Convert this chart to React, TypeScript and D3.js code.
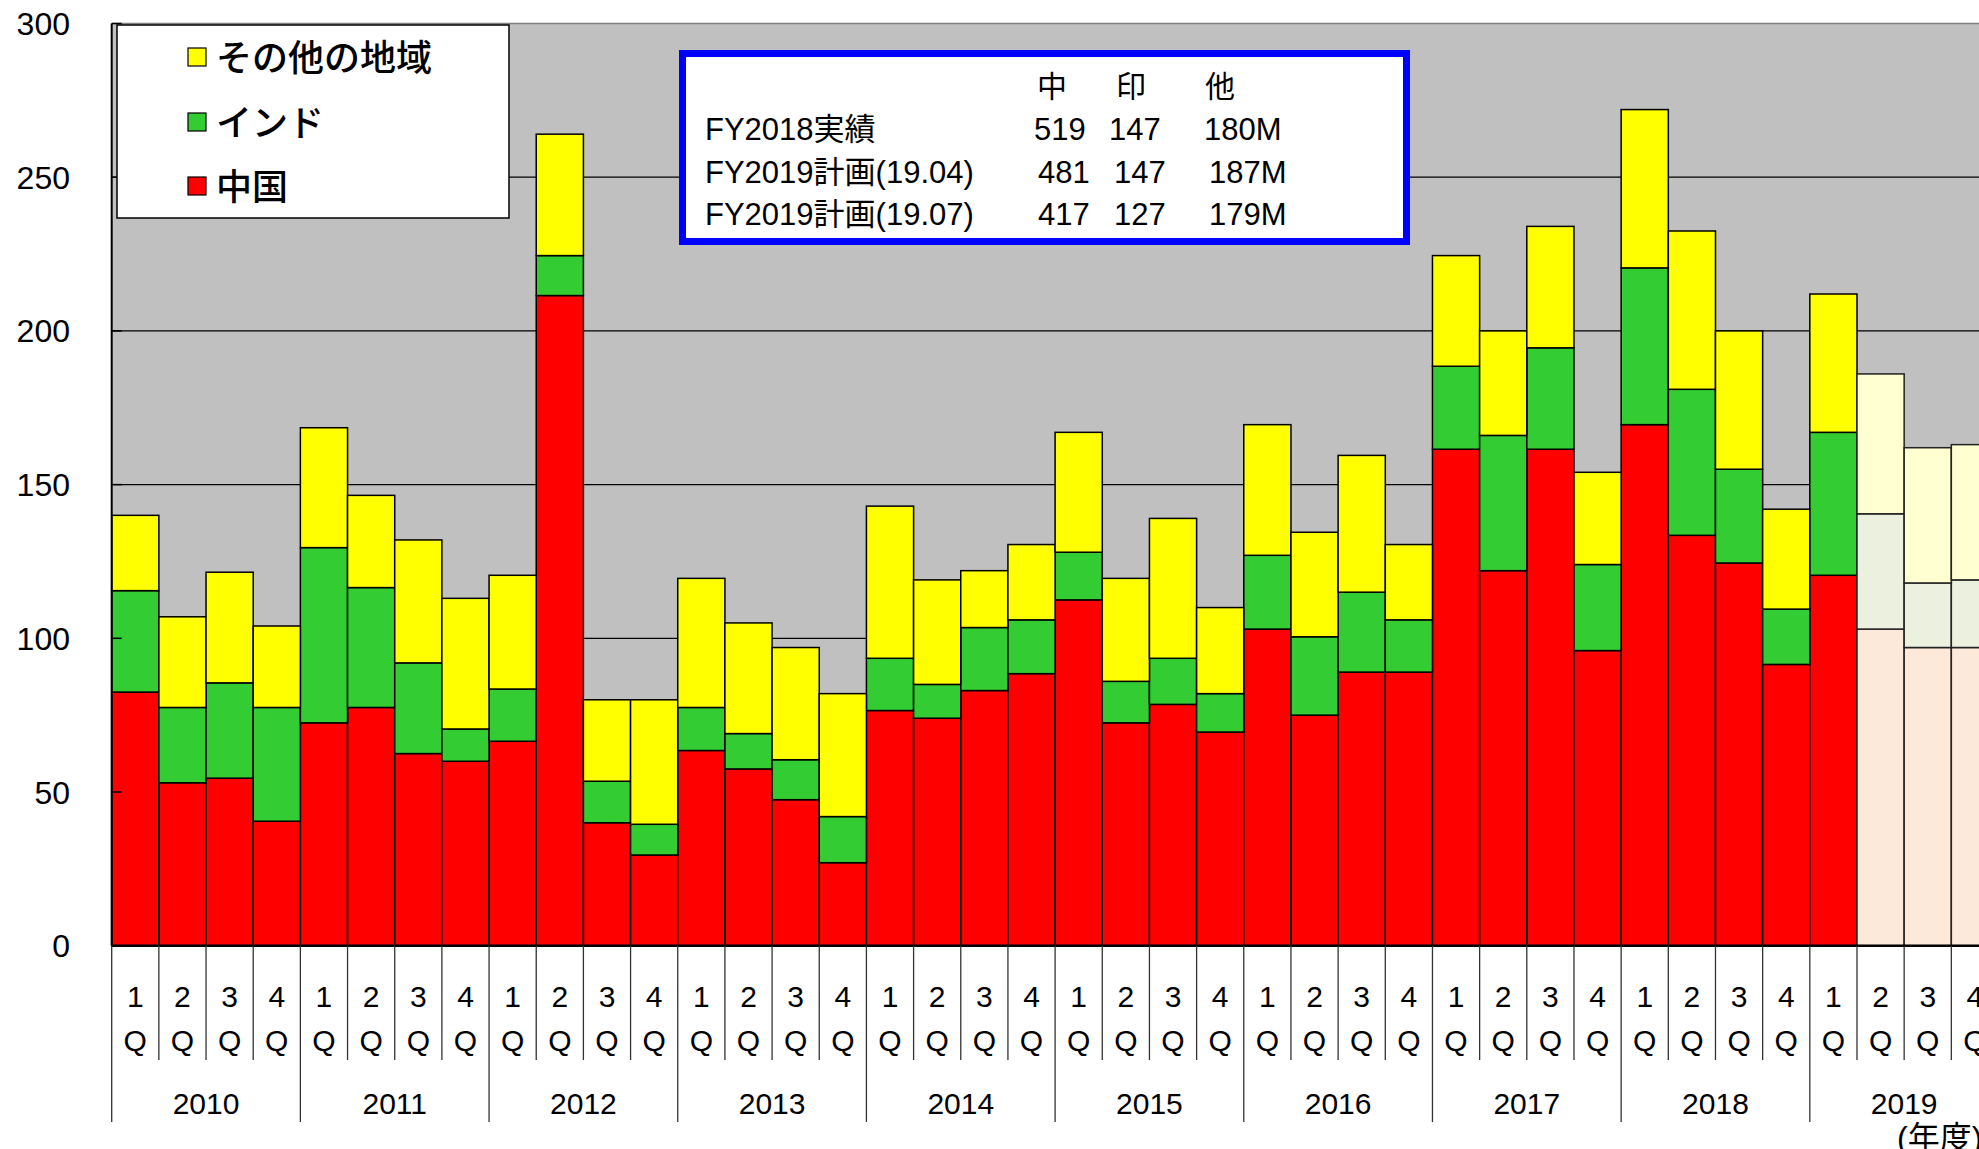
import React from 'react';
import * as d3 from 'd3';

const years = ['2010', '2011', '2012', '2013', '2014', '2015', '2016', '2017', '2018', '2019'];
const quarterNums = ['1', '2', '3', '4'];
const seriesKeys = ['china', 'india', 'other'];
const seriesNames = ['中国', 'インド', 'その他の地域'];

// segment values per quarter, FY2010 1Q .. FY2019 4Q
const china = [
  82.5, 53, 54.5, 40.5,
  72.5, 77.5, 62.5, 60,
  66.5, 211.5, 40, 29.5,
  63.5, 57.5, 47.5, 27,
  76.5, 74, 83, 88.5,
  112.5, 72.5, 78.5, 69.5,
  103, 75, 89, 89,
  161.5, 122, 161.5, 96,
  169.5, 133.5, 124.5, 91.5,
  120.5, 103, 97, 97,
];
const india = [
  33, 24.5, 31, 37,
  57, 39, 29.5, 10.5,
  17, 13, 13.5, 10,
  14, 11.5, 13, 15,
  17, 11, 20.5, 17.5,
  15.5, 13.5, 15, 12.5,
  24, 25.5, 26, 17,
  27, 44, 33, 28,
  51, 47.5, 30.5, 18,
  46.5, 37.5, 21, 22,
];
const other = [
  24.5, 29.5, 36, 26.5,
  39, 30, 40, 42.5,
  37, 39.5, 26.5, 40.5,
  42, 36, 36.5, 40,
  49.5, 34, 18.5, 24.5,
  39, 33.5, 45.5, 28,
  42.5, 34, 44.5, 24.5,
  36, 34, 39.5, 30,
  51.5, 51.5, 45, 32.5,
  45, 45.5, 44, 44,
];
const firstPlanIndex = 37; // FY2019 2Q onward are plan values

const yTicks = [0, 50, 100, 150, 200, 250, 300];

const tableHeader = ['中', '印', '他'];
const tableRows = ['FY2018実績', 'FY2019計画(19.04)', 'FY2019計画(19.07)'];
const tableValues = [
  ['519', '147', '180M'],
  ['481', '147', '187M'],
  ['417', '127', '179M'],
];

const solidColors = ['#FF0000', '#33CC33', '#FFFF00'];
const paleColors = ['#FDE9DA', '#EBF0DF', '#FFFFD2'];

const LATIN = '"Liberation Sans", Arial, "Noto Sans CJK JP", sans-serif';
const CJK = '"Noto Sans CJK JP", "Liberation Sans", sans-serif';

export default function App() {
  const W = 1979;
  const H = 1149;
  const left = 111.7;
  const bandW = 47.17;
  const top = 23.5;
  const bottom = 945.7;

  const cats = years.flatMap((y) => quarterNums.map((q) => `${y}-${q}`));
  const data = cats.map((c, i) => ({ cat: c, i, china: china[i], india: india[i], other: other[i] }));

  const x = d3.scaleBand().domain(cats).range([left, left + bandW * cats.length]).padding(0);
  const y = d3.scaleLinear().domain([0, 300]).range([bottom, top]);
  const stack = d3.stack().keys(seriesKeys)(data as any);

  const yearW = x.bandwidth() * 4;

  return (
    <svg width={W} height={H} style={{ position: 'fixed', left: 0, top: 0, background: '#fff' }}>
      {/* plot background */}
      <rect x={left} y={top} width={W - left + 40} height={bottom - top} fill="#C0C0C0" />
      {/* gridlines */}
      {yTicks.filter((t) => t > 0).map((t) => (
        <line key={t} x1={left} x2={W + 40} y1={y(t)} y2={y(t)} stroke={t === 300 ? '#808080' : '#000'} strokeWidth={1.3} />
      ))}
      {/* bars */}
      {stack.map((layer, si) => (
        <g key={si}>
          {layer.map((d: any, i: number) => {
            const plan = i >= firstPlanIndex;
            return (
              <rect
                key={i}
                x={x(cats[i])}
                y={y(d[1])}
                width={x.bandwidth()}
                height={y(d[0]) - y(d[1])}
                fill={plan ? paleColors[si] : solidColors[si]}
                stroke={plan ? '#222' : '#000'}
                strokeWidth={1.5}
              />
            );
          })}
        </g>
      ))}
      {/* y axis */}
      <line x1={left} x2={left} y1={top} y2={bottom} stroke="#000" strokeWidth={2} />
      {yTicks.map((t) => (
        <g key={t}>
          <line x1={left} x2={left + 10} y1={y(t)} y2={y(t)} stroke="#000" strokeWidth={1.5} />
          <text x={70} y={y(t) + 11.5} textAnchor="end" fontFamily={LATIN} fontSize={32} fill="#000">{t}</text>
        </g>
      ))}
      {/* x axis */}
      <line x1={left} x2={W + 40} y1={bottom} y2={bottom} stroke="#000" strokeWidth={2.5} />
      {cats.map((c, i) => (
        <g key={c}>
          <line x1={x(c)} x2={x(c)} y1={bottom} y2={i % 4 === 0 ? 1122 : 1060} stroke="#333" strokeWidth={1.3} />
          <text x={(x(c) as number) + bandW / 2} y={1007} textAnchor="middle" fontFamily={LATIN} fontSize={30} fill="#000">{quarterNums[i % 4]}</text>
          <text x={(x(c) as number) + bandW / 2} y={1051} textAnchor="middle" fontFamily={LATIN} fontSize={30} fill="#000">Q</text>
        </g>
      ))}
      {years.map((yr, yi) => (
        <text key={yr} x={(x(cats[yi * 4]) as number) + yearW / 2} y={1114} textAnchor="middle" fontFamily={LATIN} fontSize={30} fill="#000">{yr}</text>
      ))}
      <text x={1897} y={1149} fontSize={32} fill="#000" fontFamily={CJK}>
        <tspan fontFamily={LATIN}>(</tspan>
        <tspan>年度</tspan>
        <tspan fontFamily={LATIN}>)</tspan>
      </text>

      {/* legend */}
      <rect x={117} y={25} width={392} height={193} fill="#fff" stroke="#000" strokeWidth={1.5} />
      {[2, 1, 0].map((si, row) => {
        const cy = [57, 122, 186][row];
        return (
          <g key={si}>
            <rect x={188} y={cy - 9} width={18} height={18} fill={solidColors[si]} stroke="#000" strokeWidth={1.2} />
            <text x={216} y={cy + 14} fontFamily={CJK} fontSize={36} fontWeight={500} fill="#000">{seriesNames[si]}</text>
          </g>
        );
      })}

      {/* info box */}
      <rect x={682.5} y={53.5} width={724} height={188} fill="#fff" stroke="#0000FF" strokeWidth={7} />
      {tableHeader.map((h, i) => (
        <text key={h} x={[1037, 1116, 1205][i]} y={97} fontFamily={CJK} fontSize={30} fill="#000">{h}</text>
      ))}
      {tableRows.map((r, ri) => (
        <g key={r}>
          <text x={705} y={140 + ri * 42.5} fontFamily={LATIN} fontSize={31} fill="#000">{r}</text>
          {tableValues[ri].map((v, vi) => (
            <text key={vi} x={(ri === 0 ? [1034, 1109, 1204] : [1038, 1114, 1209])[vi]} y={140 + ri * 42.5} fontFamily={LATIN} fontSize={31} fill="#000">{v}</text>
          ))}
        </g>
      ))}
    </svg>
  );
}
